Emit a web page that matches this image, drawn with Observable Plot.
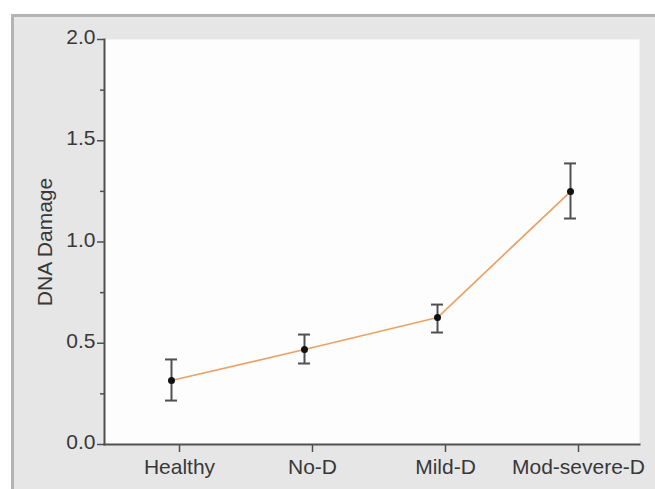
<!DOCTYPE html>
<html><head><meta charset="utf-8">
<script src="https://cdn.jsdelivr.net/npm/d3@7"></script>
<script src="https://cdn.jsdelivr.net/npm/@observablehq/plot@0.6"></script>
<style>
html,body{margin:0;padding:0;background:#fff;}
#wrap{position:relative;width:655px;height:489px;overflow:hidden;}
#panel{position:absolute;left:11px;top:14px;right:0;bottom:0;background:#e6e6e6;border-top:3px solid #b3b3b3;border-left:3px solid #b3b3b3;}
#chart{position:absolute;left:0;top:0;}
</style></head><body>
<div id="wrap"><div id="panel"></div><div id="chart"></div></div>
<script>
const groups = ["Healthy", "No-D", "Mild-D", "Mod-severe-D"];
const means = [0.316, 0.469, 0.627, 1.249];
const lows = [0.217, 0.400, 0.553, 1.116];
const highs = [0.420, 0.543, 0.691, 1.388];
const yTicks = [0, 0.5, 1, 1.5, 2];
const yMinor = [0.25, 0.75, 1.25, 1.75];
const yLabel = "DNA Damage";

const data = groups.map((g, i) => ({group: g, mean: means[i], lo: lows[i], hi: highs[i]}));
const font = "'Liberation Sans', Arial, sans-serif";
const ink = "#383838";
const axisInk = "#505050";

const chart = Plot.plot({
  width: 655, height: 489,
  marginLeft: 104, marginRight: 16, marginTop: 39, marginBottom: 45,
  style: {background: "transparent", fontFamily: font, fontSize: "21px", color: ink},
  x: {type: "band", domain: groups, range: [112, 645], paddingInner: 0.91, paddingOuter: 0.455},
  y: {domain: [0, 2]},
  marks: [
    Plot.frame({fill: "#fdfdfd", stroke: null}),
    Plot.line(data, {x: "group", y: "mean", stroke: "#eba266", strokeWidth: 1.7, dx: -8}),
    Plot.ruleX(data, {x: "group", y1: "lo", y2: "hi", stroke: axisInk, strokeWidth: 2, dx: -8}),
    Plot.tickY(data, {x: "group", y: "lo", stroke: axisInk, strokeWidth: 2, dx: -8}),
    Plot.tickY(data, {x: "group", y: "hi", stroke: axisInk, strokeWidth: 2, dx: -8}),
    Plot.dot(data, {x: "group", y: "mean", fill: "#111", r: 3.5, dx: -8}),
    Plot.frame({anchor: "left", stroke: axisInk, strokeWidth: 2}),
    Plot.frame({anchor: "bottom", stroke: axisInk, strokeWidth: 2}),
    Plot.axisY({ticks: yTicks, text: null, tickSize: 7, stroke: axisInk, strokeWidth: 1.5, label: null}),
    Plot.axisY({ticks: yMinor, text: null, tickSize: 4, stroke: axisInk, strokeWidth: 1.5, label: null}),
    Plot.axisY({ticks: yTicks, tickSize: 0, tickPadding: 9, tickFormat: d3.format(".1f"), fill: ink, dy: -2, label: null}),
    Plot.axisX({tickSize: 8, text: null, stroke: axisInk, strokeWidth: 1.5, label: null}),
    Plot.axisX({tickSize: 0, tickPadding: 15, fill: ink, label: null}),
    Plot.text([yLabel], {frameAnchor: "left", textAnchor: "middle", rotate: -90, dx: -59, fill: ink, fontSize: 21})
  ]
});
document.getElementById("chart").appendChild(chart);
</script>
</body></html>
